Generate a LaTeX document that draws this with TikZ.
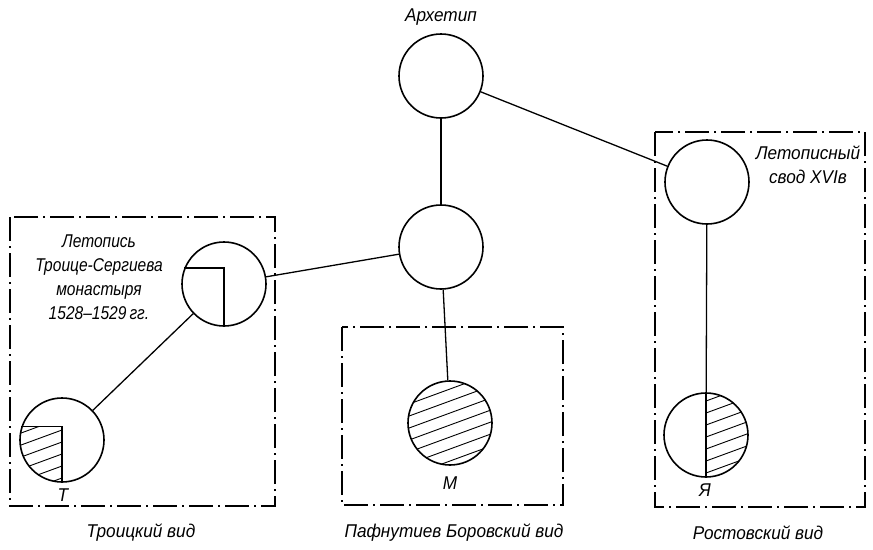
\documentclass[tikz,border=0pt]{standalone}
\usepackage{fontspec}
\setmainfont{Liberation Sans}
\newfontfamily\gostfont[FakeStretch=0.93]{Liberation Sans}
\newfontfamily\gostnarrow[FakeStretch=0.84]{Liberation Sans}
\begin{document}
\begin{tikzpicture}[x=1pt,y=-1pt,
  ms/.style={draw,circle,minimum size=84pt,inner sep=0pt,line width=1.6pt},
  link/.style={line width=1.3pt},
  hatch/.style={line width=0.9pt},
  vidbox/.style={line width=1.4pt,dash pattern=on 24pt off 5pt on 2pt off 5pt},
  lbl/.style={font=\gostfont\fontsize{18.5}{24}\selectfont\itshape,inner sep=0pt}]
\useasboundingbox (0,0) rectangle (873,549);
% boxes
\draw[vidbox] (10,217) rectangle (275,506);
\draw[vidbox] (342,327) rectangle (563,505);
\draw[vidbox] (655,132) rectangle (865,507);
% manuscripts
\node[ms] (arch) at (441,76) {};
\node[ms] (mid) at (441,247) {};
\node[ms] (svod) at (707,182) {};
\node[ms] (tr) at (224,284) {};
\node[ms] (t) at (62,440) {};
\node[ms] (m) at (450,423) {};
\node[ms] (ya) at (706,435) {};
% hatching
\begin{scope}
  \clip (m.center) circle (42pt);
  \foreach \k in {-5,...,5}
    \draw[hatch] ([shift={(-60,\k*12)}]m.center) -- ++(120,-44);
\end{scope}
\begin{scope}
  \clip (ya.center) circle (42pt);
  \clip (ya.north) rectangle (ya.east |- ya.south);
  \foreach \k in {-5,...,5}
    \draw[hatch] ([shift={(-60,\k*12)}]ya.center) -- ++(120,-44);
\end{scope}
\begin{scope}
  \clip (t.center) circle (42pt);
  \clip (t.west |- t.162) rectangle (t.south);
  \foreach \k in {-5,...,5}
    \draw[hatch] ([shift={(-60,\k*12)}]t.center) -- ++(120,-44);
\end{scope}
\draw[link] (tr.158) -- (tr.158 -| tr.south) -- (tr.south);
\draw[link] (t.162) -- (t.162 -| t.south) -- (t.south);
\draw[link] (ya.north) -- (ya.south);
% links
\draw[link] (arch) -- (mid);
\draw[link] (arch) -- (svod);
\draw[link] (mid) -- (tr);
\draw[link] (mid) -- (m);
\draw[link] (tr) -- (t);
\draw[link] (svod) -- (ya);
% labels
\node[lbl] (larch) at (441,17) {Архетип};
\node[lbl,font=\gostnarrow\fontsize{18.5}{24}\selectfont\itshape,align=center] (ltr) at (99,277) {Летопись\\Троице-Сергиева\\монастыря\\1528–1529\,гг.};
\node[lbl,align=center] (lsvod) at (808,165) {Летописный\\свод XVIв};
\node[lbl] (lt) at (63,495) {Т};
\node[lbl] (lm) at (450,483) {М};
\node[lbl] (lya) at (705,490) {Я};
\node[lbl] (vtr) at (141,533) {Троицкий вид};
\node[lbl] (vm) at (454,533) {Пафнутиев Боровский вид};
\node[lbl] (vya) at (758,533) {Ростовский вид};
\end{tikzpicture}
\end{document}
